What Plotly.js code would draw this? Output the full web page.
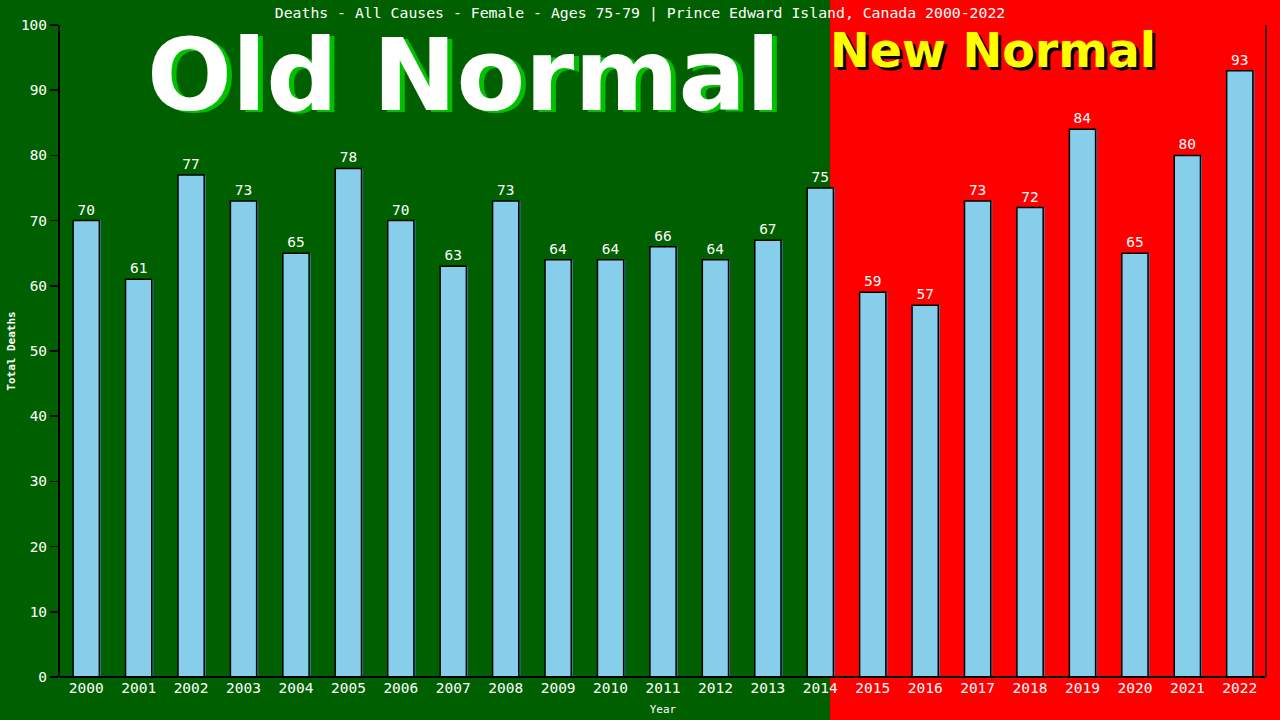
<!DOCTYPE html>
<html>
<head>
<meta charset="utf-8">
<script src="https://cdn.plot.ly/plotly-3.0.1.min.js"></script>
<style>
  html, body { margin: 0; padding: 0; background: #ff0000; }
  #plot { width: 1280px; height: 720px; }
</style>
</head>
<body>
<div id="plot"></div>
<script>
// data
const years = ['2000','2001','2002','2003','2004','2005','2006','2007','2008','2009','2010','2011',
               '2012','2013','2014','2015','2016','2017','2018','2019','2020','2021','2022'];
const deaths = [70, 61, 77, 73, 65, 78, 70, 63, 73, 64, 64, 66, 64, 67, 75, 59, 57, 73, 72, 84, 65, 80, 93];

const mono = 'DejaVu Sans Mono, Liberation Mono, monospace';
const wide = 'DejaVu Sans, Verdana, sans-serif';

let shadow = {
  x: years, y: deaths, type: 'bar', width: 0.5, offset: -0.22,
  marker: { color: '#4682b4', line: { width: 0 } },
  hoverinfo: 'skip', showlegend: false
};

let bars = {
  x: years, y: deaths, type: 'bar', width: 0.5, offset: -0.25,
  marker: { color: '#87ceeb', line: { color: '#000000', width: 1.5 } },
  text: deaths.map(String), textposition: 'outside', cliponaxis: false,
  textfont: { family: mono, size: 14.5, color: '#ffffff' },
  showlegend: false
};

// left border of the "new normal" area, in pixels of the figure
const W = 1280, L = 60, R = 14;
const plotW = W - L - R;
const splitX = (830 - L) / plotW;

let layout = {
  width: 1280, height: 720,
  margin: { l: L, r: R, t: 25, b: 43 },
  paper_bgcolor: '#ff0000',
  plot_bgcolor: 'rgba(0,0,0,0)',
  barmode: 'overlay',
  title: {
    text: 'Deaths - All Causes - Female - Ages 75-79 | Prince Edward Island, Canada 2000-2022',
    font: { family: mono, size: 14.8, color: '#ffffff' },
    x: 0.5, xref: 'container', xanchor: 'center', y: 0.982, yanchor: 'middle'
  },
  xaxis: {
    type: 'category', range: [-0.5, 22.5],
    showgrid: false, zeroline: false,
    showline: false,
    ticks: '', tickfont: { family: mono, size: 14.5, color: '#ffffff' },
    title: { text: 'Year', font: { family: mono, size: 11, color: '#ffffff' }, standoff: 10 }
  },
  yaxis: {
    range: [0, 100], dtick: 10,
    showgrid: false, zeroline: false,
    showline: true, linecolor: '#000000', linewidth: 2,
    ticks: 'outside', ticklen: 8, tickcolor: '#000000', tickwidth: 1.5,
    tickfont: { family: mono, size: 14.5, color: '#ffffff' },
    title: { text: '<b>Total Deaths</b>', font: { family: mono, size: 11, color: '#ffffff' }, standoff: 3 }
  },
  shapes: [
    { type: 'rect', xref: 'paper', yref: 'paper', x0: -L / plotW, x1: splitX, y0: -1, y1: 2,
      fillcolor: '#006000', line: { width: 0 }, layer: 'below' },
    { type: 'line', xref: 'paper', yref: 'paper', x0: 0, x1: 1, y0: 0, y1: 0,
      line: { color: '#000000', width: 2 } },
    { type: 'line', xref: 'paper', yref: 'paper', x0: 1, x1: 1, y0: 0, y1: 1,
      line: { color: '#000000', width: 1.5 } }
  ],
  annotations: [
    { text: '<b>Old Normal</b>', xref: 'paper', yref: 'paper', x: (463 - L) / plotW, y: 0.922,
      showarrow: false, xanchor: 'center', yanchor: 'middle',
      font: { family: wide, size: 100, color: '#ffffff', shadow: '5px 2px 0px #00c000' } },
    { text: '<b>New Normal</b>', xref: 'paper', yref: 'paper', x: (828 - L) / plotW, y: 0.961,
      showarrow: false, xanchor: 'left', yanchor: 'middle',
      font: { family: wide, size: 47.5, color: '#ffff00', shadow: '3px 3px 0px #000000' } }
  ]
};

Plotly.newPlot('plot', [shadow, bars], layout, { displayModeBar: false, staticPlot: true });
</script>
</body>
</html>
